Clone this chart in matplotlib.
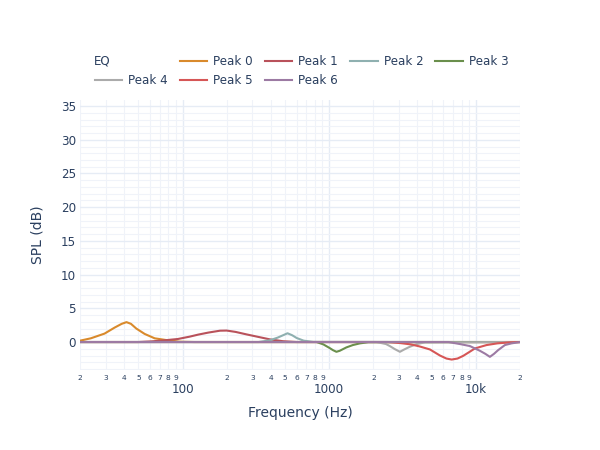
import matplotlib
matplotlib.use("Agg")
import matplotlib.pyplot as plt
from matplotlib.lines import Line2D
import numpy as np

plt.rcParams['font.family'] = ['DejaVu Sans']

TXT = '#2a3f5f'

# (frequency Hz, gain dB)
peak0_f = [20, 23.7, 29.4, 34.5, 38.5, 41.5, 44.5, 48.4, 55.2, 64.6, 77, 95, 120, 20000]
peak0_db = [0.2, 0.55, 1.25, 2.15, 2.7, 2.95, 2.7, 2.0, 1.2, 0.55, 0.3, 0.05, 0, 0]

peak1_f = [20, 50, 62, 75, 93, 112, 128, 150, 180, 200, 230, 272, 330, 393, 484, 600, 20000]
peak1_db = [0, 0, 0.1, 0.25, 0.45, 0.8, 1.1, 1.4, 1.68, 1.7, 1.5, 1.14, 0.75, 0.4, 0.12, 0, 0]

peak2_f = [20, 330, 393, 445, 490, 520, 560, 600, 670, 780, 20000]
peak2_db = [0, 0, 0.25, 0.65, 1.05, 1.3, 1.0, 0.6, 0.2, 0.02, 0]

peak3_f = [20, 820, 912, 1000, 1060, 1120, 1180, 1310, 1450, 1620, 1850, 20000]
peak3_db = [0, 0, -0.35, -0.85, -1.2, -1.45, -1.3, -0.8, -0.45, -0.2, -0.03, 0]

peak4_f = [20, 2100, 2440, 2590, 2800, 3036, 3250, 3550, 3960, 4500, 20000]
peak4_db = [0, 0, -0.3, -0.6, -1.05, -1.45, -1.1, -0.7, -0.3, -0.05, 0]

peak5_f = [20, 2500, 3036, 3600, 4130, 4860, 5690, 6300, 6840, 7500, 8200, 9000, 9855,
           11830, 14000, 17000, 20000]
peak5_db = [0, 0, -0.15, -0.35, -0.65, -1.1, -2.0, -2.45, -2.6, -2.45, -2.05, -1.5, -0.95,
            -0.45, -0.2, -0.05, 0]

peak6_f = [20, 6500, 7785, 9110, 10660, 11600, 12470, 13300, 14190, 15780, 17500, 20000]
peak6_db = [0, 0, -0.3, -0.6, -1.3, -1.75, -2.2, -1.75, -1.2, -0.45, -0.2, 0]

series = [
    ("Peak 0", peak0_f, peak0_db, '#d98a2c'),
    ("Peak 1", peak1_f, peak1_db, '#b9525b'),
    ("Peak 2", peak2_f, peak2_db, '#8fb0b0'),
    ("Peak 3", peak3_f, peak3_db, '#6a8f4c'),
    ("Peak 4", peak4_f, peak4_db, '#ababab'),
    ("Peak 5", peak5_f, peak5_db, '#d65656'),
    ("Peak 6", peak6_f, peak6_db, '#9c7aa3'),
]

minor_ticks = [20, 30, 40, 50, 60, 70, 80, 90,
               200, 300, 400, 500, 600, 700, 800, 900,
               2000, 3000, 4000, 5000, 6000, 7000, 8000, 9000, 20000]
minor_labels = ['2', '3', '4', '5', '6', '7', '8', '9'] * 3 + ['2']
major_ticks = [100, 1000, 10000]
major_labels = ['100', '1000', '10k']

fig = plt.figure(figsize=(6, 4.5), dpi=100)
ax = fig.add_axes([80 / 600, 1 - 370 / 450, 440 / 600, 270 / 450])

handles = []
for name, f, db, col in series:
    h, = ax.plot(f, db, color=col, lw=1.5, label=name, solid_joinstyle='round')
    handles.append(h)

ax.set_xscale('log')
ax.set_xlim(20, 20000)
ax.set_ylim(-4.15, 35.9)

ax.set_xticks(major_ticks)
ax.set_xticklabels(major_labels)
ax.set_xticks(minor_ticks, minor=True)
ax.set_xticklabels(minor_labels, minor=True)
ax.set_yticks(np.arange(0, 36, 5))
ax.set_yticks(np.arange(-4, 36, 1), minor=True)

ax.tick_params(axis='x', which='major', length=0, pad=9.5, labelsize=8.6, labelcolor=TXT)
ax.tick_params(axis='x', which='minor', length=0, pad=3.5, labelsize=5.4, labelcolor=TXT)
ax.tick_params(axis='y', which='both', length=0, pad=3, labelsize=8.6, labelcolor=TXT)

ax.grid(which='major', color='#e6ecf5', lw=1)
ax.grid(which='minor', color='#f0f3f9', lw=0.8)
ax.set_axisbelow(True)
for s in ax.spines.values():
    s.set_visible(False)

ax.set_xlabel("Frequency (Hz)", fontsize=10, color=TXT)
ax.set_ylabel("SPL (dB)", fontsize=10, color=TXT)
ax.xaxis.set_label_coords(0.5, -0.135)
ax.yaxis.set_label_coords(-0.08, 0.5)

# legend laid out like the reference: "EQ" in the first slot, then wrap
blank = Line2D([], [], color='none')
leg_handles = [blank, handles[4], handles[0], handles[5], handles[1], handles[6],
               handles[2], blank, handles[3], blank]
leg_labels = [' ', 'Peak 4', 'Peak 0', 'Peak 5', 'Peak 1', 'Peak 6',
              'Peak 2', ' ', 'Peak 3', ' ']
leg = fig.legend(leg_handles, leg_labels, ncol=5, loc='upper left',
                 bbox_to_anchor=(89 / 600, 1 - 49 / 450), frameon=False,
                 fontsize=8.6, handlelength=2.3, handletextpad=0.5,
                 columnspacing=1.0, borderpad=0, labelspacing=0.53)
for t in leg.get_texts():
    t.set_color(TXT)
fig.text(94 / 600, 1 - 61 / 450, "EQ", fontsize=8.6, color=TXT, va='center', ha='left')

fig.savefig("out.png", dpi=100)
